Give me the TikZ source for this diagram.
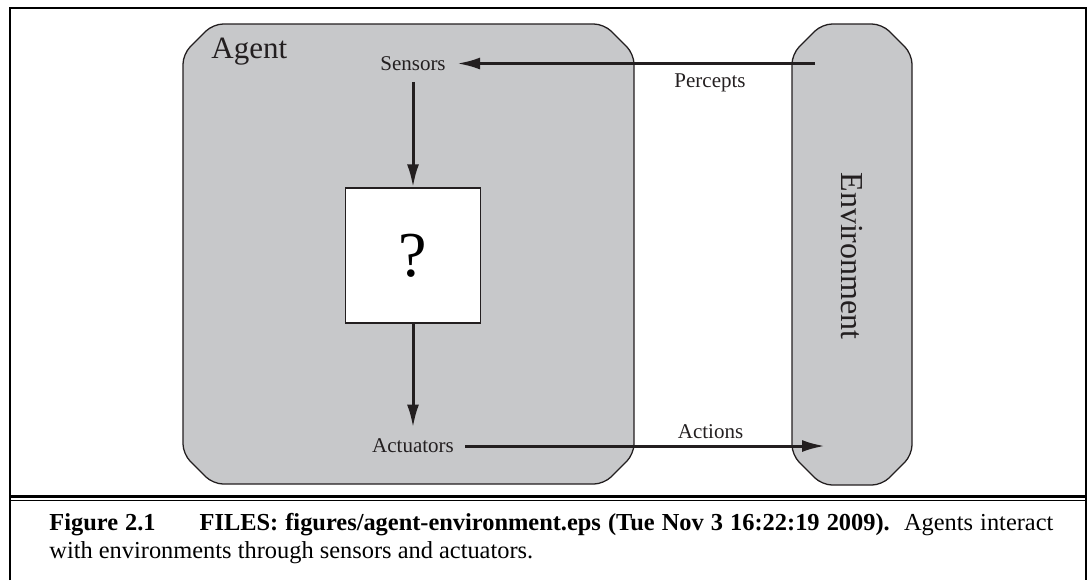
\documentclass[tikz,border=0pt]{standalone}
\usepackage{fontspec}
\setmainfont{Liberation Serif}
\usetikzlibrary{arrows.meta}
\definecolor{boxgray}{RGB}{199,200,202}
\definecolor{inkblack}{RGB}{35,31,32}
\tikzset{blob/.style={draw=inkblack,fill=boxgray,line width=0.65pt,rounded corners=5pt},
	lbl/.style={inner sep=5.5pt,text=inkblack,font=\fontsize{10.5}{12}\selectfont},
	flow/.style={draw=inkblack,line width=1.5pt,-{Latex[length=11.5pt,width=6pt]}}}

\begin{document}
\begin{tikzpicture}[x=0.5pt,y=-0.5pt]
	 \useasboundingbox (0,0) rectangle (1087,580);
	 \draw[line width=1pt] (9.5,580) -- (9.5,8) (1086,8) -- (1086,580);
	 \draw[line width=1.25pt] (9,8) -- (1086.5,8);

	 \draw[blob] (183,54) -- (183,454) -- (213,484) -- (604,484) -- (634,454) -- (634,54) -- (604,24) -- (213,24) -- cycle;
	 \draw[blob] (792,54) -- (792,455) -- (822,485) -- (882,485) -- (912,455) -- (912,54) -- (882,24) -- (822,24) -- cycle;

	 \node[anchor=base west,inner sep=0,text=inkblack,font=\fontsize{15.5}{18}\selectfont] (agent) at (211,58) {Agent};
	 \node[rotate=-90,inner sep=0,text=inkblack,font=\fontsize{16}{18}\selectfont] (environment) at (852,256) {Environment};
	 \node[lbl] (sensors) at (413,63.5) {Sensors};
	 \node[lbl] (actuators) at (413,446) {Actuators};
	 \node[draw=inkblack,fill=white,line width=0.65pt,minimum size=67.5pt,inner sep=0,
		font=\fontsize{32}{36}\selectfont] (program) at (413,255.5) {?};
	 \node[lbl,anchor=base] (percepts) at (710,87) {Percepts};
	 \node[lbl,anchor=base] (actions) at (710.5,438) {Actions};
	 \coordinate (percepts-x) at (815,63.5);
	 \coordinate (actions-x) at (825,446);

	 \draw[flow] (percepts-x) -- (sensors);
	 \draw[flow] (sensors) -- (program);
	 \draw[flow] (program) -- (actuators);
	 \draw[flow] (actuators) -- (actions-x);

	 \draw[line width=1.5pt] (9.5,496.5) -- (1086,496.5);
	 \draw[line width=0.5pt] (9.5,500.3) -- (1086,500.3);
	 \node[anchor=base west,inner sep=0,text width=502pt,align=justify,
		font=\fontsize{12.2}{14.4}\selectfont] (caption) at (49,530)
		{\textbf{Figure 2.1\hspace{1.8em}FILES: figures/agent-environment.eps (Tue Nov 3 16:22:19 2009).}\ \ Agents interact\linebreak
		with environments through sensors and actuators.};
\end{tikzpicture}
\end{document}
